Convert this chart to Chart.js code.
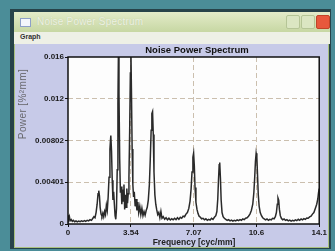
<!DOCTYPE html>
<html lang="en">
<head>
<meta charset="UTF-8">
<title>Noise Power Spectrum</title>
<script src="https://cdn.jsdelivr.net/npm/chart.js"></script>
<style>
  html, body { margin: 0; padding: 0; }
  body { width: 335px; height: 251px; background: #4b8d98; position: relative; overflow: hidden;
         font-family: "Liberation Sans", Arial, sans-serif; }
  .win { position: absolute; left: 10px; top: 9px; width: 321px; height: 240px;
         background: #27434a; }
  .frame { position: absolute; left: 4px; top: 3px; right: 2px; bottom: 1px; background: #a9c07f; }
  .titlebar { position: absolute; left: 14px; top: 12px; width: 316px; height: 20px;
              background: linear-gradient(#e3ebc9, #c7d7a3); }
  .titlebar .icon { position: absolute; left: 6px; top: 6px; width: 9px; height: 7px;
                    background: #f4f6fb; border: 1px solid #8ea0c8; }
  .titlebar .txt { position: absolute; left: 23px; top: 4px; font-size: 10px; color: #eef2e2;
                   text-shadow: 0 0 1px #b8c6a0; letter-spacing: 0.2px; }
  .btn { position: absolute; top: 3px; width: 12px; height: 12px; border-radius: 2px;
         background: #dbe6c2; border: 1px solid #b5c596; }
  .btn.close { background: #e8583c; border-color: #c04428; }
  .menubar { position: absolute; left: 14px; top: 32px; width: 316px; height: 12px;
             background: #eef0e6; }
  .menubar span { position: absolute; left: 6px; top: 1px; font-size: 7px; font-weight: bold; color: #333; }
  .panel { position: absolute; left: 15px; top: 44px; width: 313px; height: 203px; background: #c7cae8; }
  .ctitle { position: absolute; left: 15px; top: 44px; width: 364px; text-align: center;
            font-size: 9.5px; font-weight: bold; color: #111; line-height: 12px; }
  .ytitle { position: absolute; left: 0; top: 0; font-size: 10px; line-height: 12px; color: #6a6a70;
            width: 72px; text-align: center; letter-spacing: 0.4px;
            transform-origin: 0 0; transform: translate(17px, 140px) rotate(-90deg); white-space: nowrap; }
  .xtitle { position: absolute; left: 68px; top: 237px; width: 252px; text-align: center;
            font-size: 8.5px; font-weight: bold; color: #222; }
  #chartBox { position: absolute; left: 15px; top: 44px; width: 313px; height: 203px; }
</style>
</head>
<body>
  <div class="win"><div class="frame"></div></div>
  <div class="titlebar">
    <div class="icon"></div>
    <div class="txt">Noise Power Spectrum</div>
    <div class="btn" style="left:272px"></div>
    <div class="btn" style="left:287px"></div>
    <div class="btn close" style="left:302px"></div>
  </div>
  <div class="menubar"><span>Graph</span></div>
  <div class="panel"></div>
  <div id="chartBox"><canvas id="npsChart" width="313" height="203"></canvas></div>
  <div class="ctitle">Noise Power Spectrum</div>
  <div class="ytitle">Power [%²mm]</div>
  <div class="xtitle">Frequency [cyc/mm]</div>

<script>
// frecuencias (cyc/mm) y potencia
const freq = [
  0.00, 0.04, 0.08, 0.12, 0.18, 0.24, 0.30, 0.38, 0.45, 0.52, 0.60, 0.68, 0.76, 0.84, 0.92, 1.00,
  1.08, 1.16, 1.24, 1.32, 1.40, 1.46, 1.52, 1.58, 1.64, 1.69, 1.73, 1.77, 1.81, 1.86, 1.91, 1.96,
  2.01, 2.06, 2.11, 2.16, 2.21, 2.26, 2.31, 2.36, 2.41, 2.45, 2.49, 2.53, 2.57, 2.61, 2.65, 2.69,
  2.73, 2.77, 2.81, 2.84, 2.87, 2.91, 2.95, 2.99, 3.03, 3.07, 3.11, 3.15, 3.19, 3.23, 3.27, 3.31,
  3.35, 3.39, 3.43, 3.47, 3.51, 3.54, 3.57, 3.61, 3.65, 3.69, 3.73, 3.78, 3.83, 3.88, 3.93, 3.98,
  4.04, 4.10, 4.16, 4.22, 4.28, 4.34, 4.40, 4.46, 4.52, 4.58, 4.63, 4.68, 4.72, 4.76, 4.80, 4.84,
  4.89, 4.94, 4.99, 5.05, 5.11, 5.17, 5.23, 5.29, 5.36, 5.44, 5.52, 5.60, 5.68, 5.76, 5.84, 5.92,
  6.00, 6.08, 6.16, 6.24, 6.32, 6.40, 6.48, 6.56, 6.64, 6.72, 6.80, 6.87, 6.93, 6.98, 7.03, 7.07,
  7.11, 7.15, 7.20, 7.26, 7.32, 7.38, 7.45, 7.52, 7.60, 7.68, 7.76, 7.84, 7.92, 8.00, 8.08, 8.16,
  8.24, 8.32, 8.38, 8.43, 8.47, 8.51, 8.54, 8.58, 8.62, 8.67, 8.73, 8.80, 8.88, 8.96, 9.04, 9.12,
  9.20, 9.28, 9.36, 9.44, 9.52, 9.60, 9.68, 9.76, 9.84, 9.92, 10.00, 10.08, 10.16, 10.24, 10.32, 10.40,
  10.46, 10.51, 10.55, 10.59, 10.63, 10.67, 10.71, 10.76, 10.82, 10.89, 10.96, 11.04, 11.12, 11.20, 11.28, 11.36,
  11.44, 11.52, 11.60, 11.67, 11.73, 11.78, 11.82, 11.86, 11.90, 11.95, 12.01, 12.08, 12.16, 12.24, 12.32, 12.40,
  12.48, 12.56, 12.64, 12.72, 12.80, 12.88, 12.96, 13.04, 13.12, 13.20, 13.28, 13.36, 13.44, 13.52, 13.60, 13.68,
  13.76, 13.84, 13.92, 14.00, 14.06, 14.10, 14.14
];
const power = [
  0.00085, 0.00045, 0.00070, 0.00030, 0.00042, 0.00025, 0.00035, 0.00022, 0.00030, 0.00020, 0.00028, 0.00022, 0.00030, 0.00024, 0.00033, 0.00026,
  0.00036, 0.00030, 0.00042, 0.00035, 0.00055, 0.00070, 0.00060, 0.00110, 0.00190, 0.00290, 0.00320, 0.00270, 0.00160, 0.00095, 0.00075, 0.00105,
  0.00070, 0.00120, 0.00090, 0.00180, 0.00130, 0.00260, 0.00450, 0.00720, 0.00850, 0.00700, 0.00420, 0.00230, 0.00310, 0.00190, 0.00080, 0.00045,
  0.00150, 0.00520, 0.01150, 0.01680, 0.01250, 0.00620, 0.00300, 0.00360, 0.00190, 0.00330, 0.00220, 0.00380, 0.00140, 0.00280, 0.00160, 0.00340,
  0.00200, 0.00290, 0.00450, 0.00880, 0.01450, 0.01700, 0.01300, 0.00720, 0.00380, 0.00260, 0.00310, 0.00170, 0.00240, 0.00130, 0.00210, 0.00110,
  0.00170, 0.00090, 0.00150, 0.00080, 0.00120, 0.00085, 0.00130, 0.00160, 0.00230, 0.00380, 0.00620, 0.00900, 0.01060, 0.01080, 0.00860, 0.00500,
  0.00280, 0.00190, 0.00140, 0.00090, 0.00110, 0.00060, 0.00120, 0.00055, 0.00070, 0.00045, 0.00060, 0.00040, 0.00055, 0.00038, 0.00050, 0.00040,
  0.00055, 0.00042, 0.00060, 0.00045, 0.00065, 0.00055, 0.00075, 0.00070, 0.00095, 0.00110, 0.00150, 0.00220, 0.00340, 0.00500, 0.00640, 0.00680,
  0.00560, 0.00350, 0.00210, 0.00140, 0.00100, 0.00075, 0.00065, 0.00050, 0.00055, 0.00040, 0.00050, 0.00035, 0.00045, 0.00038, 0.00055, 0.00045,
  0.00065, 0.00080, 0.00120, 0.00240, 0.00420, 0.00570, 0.00590, 0.00440, 0.00230, 0.00110, 0.00070, 0.00055, 0.00045, 0.00035, 0.00042, 0.00030,
  0.00038, 0.00028, 0.00035, 0.00030, 0.00040, 0.00032, 0.00042, 0.00036, 0.00048, 0.00042, 0.00055, 0.00060, 0.00075, 0.00095, 0.00130, 0.00190,
  0.00300, 0.00450, 0.00600, 0.00680, 0.00640, 0.00460, 0.00280, 0.00170, 0.00110, 0.00080, 0.00060, 0.00050, 0.00040, 0.00048, 0.00036, 0.00045,
  0.00040, 0.00055, 0.00050, 0.00070, 0.00110, 0.00190, 0.00250, 0.00230, 0.00140, 0.00080, 0.00055, 0.00040, 0.00048, 0.00035, 0.00042, 0.00030,
  0.00038, 0.00028, 0.00036, 0.00030, 0.00040, 0.00032, 0.00045, 0.00036, 0.00048, 0.00040, 0.00052, 0.00045, 0.00058, 0.00055, 0.00068, 0.00075,
  0.00095, 0.00110, 0.00150, 0.00190, 0.00240, 0.00300, 0.00340
];

// marcas de los ejes
const xTicks = [0, 3.535, 7.07, 10.605, 14.14];
const xTickLabels = ['0', '3.54', '7.07', '10.6', '14.1'];
const yTicks = [0, 0.00401, 0.00802, 0.01203, 0.01604];
const yTickLabels = ['0', '0.00401', '0.00802', '0.012', '0.016'];

const points = freq.map((f, i) => ({ x: f, y: power[i] }));

// fondo blanco y marco negro del area de la grafica
const plotFrame = {
  id: 'plotFrame',
  beforeDraw(chart) {
    const a = chart.chartArea, c = chart.ctx;
    c.save();
    c.fillStyle = '#fdfdfd';
    c.fillRect(a.left, a.top, a.right - a.left, a.bottom - a.top);
    c.restore();
  },
  afterDraw(chart) {
    const a = chart.chartArea, c = chart.ctx;
    c.save();
    c.strokeStyle = '#111';
    c.lineWidth = 1.5;
    c.strokeRect(a.left, a.top, a.right - a.left, a.bottom - a.top);
    c.restore();
  }
};

const tickFont = { family: 'Liberation Sans', size: 8, weight: 'bold' };
const gridColor = ctx => (ctx.index === 0 || ctx.index === 4) ? 'rgba(0,0,0,0)' : '#cbbfae';

new Chart(document.getElementById('npsChart'), {
  type: 'line',
  data: {
    datasets: [{
      data: points,
      borderColor: '#2a2a2a',
      borderWidth: 1.5,
      pointRadius: 0,
      tension: 0,
      fill: false
    }]
  },
  options: {
    responsive: false,
    animation: false,
    events: [],
    layout: { padding: { left: 0, right: 8, top: 13, bottom: 0 } },
    plugins: { legend: { display: false }, title: { display: false }, tooltip: { enabled: false } },
    scales: {
      x: {
        type: 'linear', min: 0, max: 14.14,
        afterBuildTicks: s => { s.ticks = xTicks.map(v => ({ value: v })); },
        afterFit: s => { s.height = 23; },
        ticks: {
          font: tickFont, color: '#1a1a1a', padding: 1, maxRotation: 0, autoSkip: false,
          callback: (v, i) => xTickLabels[i]
        },
        grid: { color: gridColor, drawTicks: true, tickLength: 3, tickColor: '#111' },
        border: { display: false, dash: [5, 3] }
      },
      y: {
        min: 0, max: 0.01604,
        afterBuildTicks: s => { s.ticks = yTicks.map(v => ({ value: v })); },
        afterFit: s => { s.width = 53; },
        ticks: {
          font: tickFont, color: '#1a1a1a', padding: 1, autoSkip: false,
          callback: (v, i) => yTickLabels[i]
        },
        grid: { color: gridColor, drawTicks: true, tickLength: 3, tickColor: '#111' },
        border: { display: false, dash: [5, 3] }
      }
    }
  },
  plugins: [plotFrame]
});
</script>
</body>
</html>
